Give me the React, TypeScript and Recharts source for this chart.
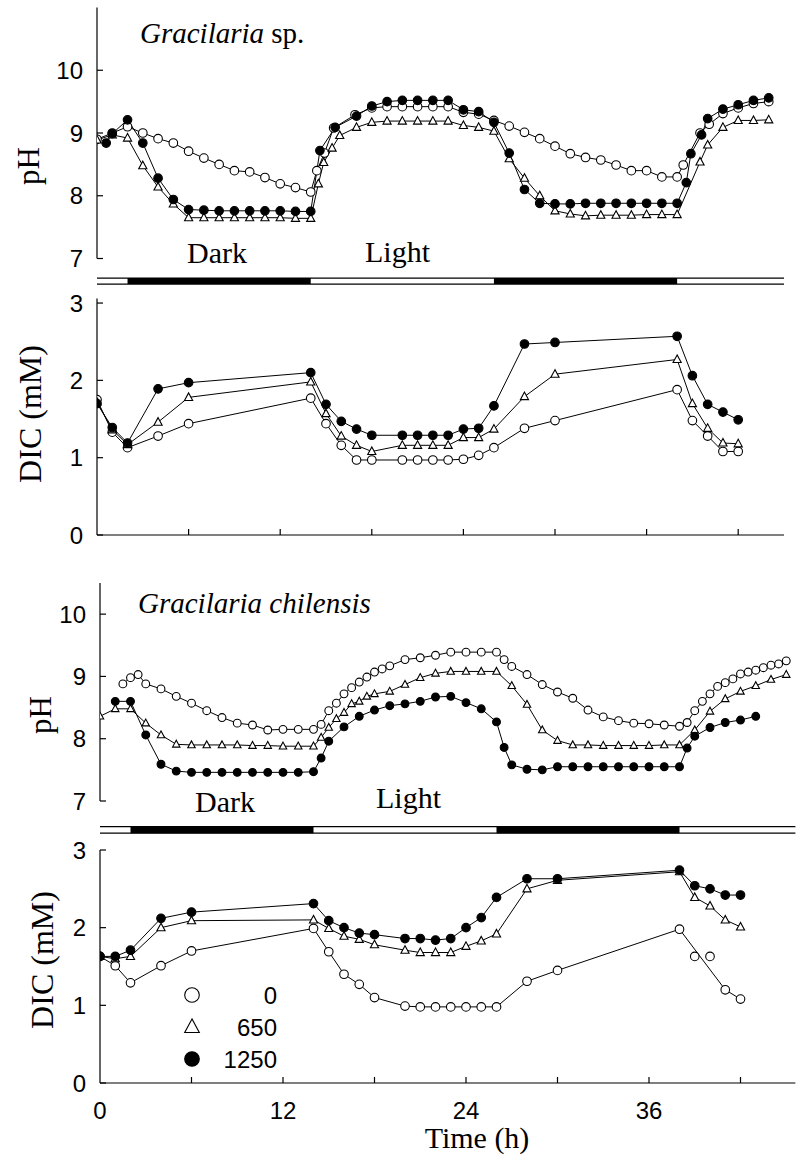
import React from 'react';
import { LineChart, Line, XAxis, YAxis, ReferenceArea, ReferenceLine, Legend } from 'recharts';

// [time (h), value] pairs
// Gracilaria sp. – pH
const spPh0 = [[0,8.9],[1,9.0],[2,9.1],[3,9.0],[4,8.91],[5,8.84],[6,8.71],[7,8.6],[8,8.5],[9,8.4],[10,8.38],[11,8.29],[12,8.19],[13,8.13],[14,8.06],[14.4,8.4],[14.9,8.68],[15.5,9.08],[16.9,9.29],[18,9.4],[19,9.42],[20,9.42],[21,9.42],[22,9.42],[23,9.42],[24,9.33],[25,9.3],[26,9.2],[27,9.11],[28,9.01],[29,8.91],[30,8.79],[31,8.67],[32,8.61],[33,8.57],[34,8.49],[35,8.4],[36,8.4],[37,8.3],[38,8.3],[38.4,8.49],[39.5,9.0],[40.1,9.14],[41,9.31],[42,9.4],[43,9.47],[44,9.5]];
const spPh650 = [[0,8.89],[1,8.97],[2,8.92],[3,8.48],[4,8.14],[5,7.87],[6,7.65],[7,7.65],[8,7.65],[9,7.65],[10,7.65],[11,7.65],[12,7.65],[13,7.64],[14,7.64],[14.5,8.19],[14.85,8.53],[15.4,8.76],[15.9,8.96],[17,9.09],[18,9.17],[19,9.19],[20,9.19],[21,9.19],[22,9.19],[23,9.19],[24,9.12],[25,9.09],[26,9.03],[27,8.59],[28,8.28],[29,8.0],[30,7.76],[31,7.71],[32,7.68],[33,7.69],[34,7.69],[35,7.69],[36,7.7],[37,7.7],[38,7.7],[39.5,8.54],[40,8.81],[41,9.09],[42,9.2],[43,9.2],[44,9.21]];
const spPh1250 = [[0.6,8.84],[1,8.99],[2,9.21],[3,8.84],[4,8.28],[5,7.94],[6,7.78],[7,7.77],[8,7.76],[9,7.76],[10,7.76],[11,7.76],[12,7.76],[13,7.75],[14,7.75],[14.6,8.72],[15.6,9.09],[17,9.27],[18,9.43],[19,9.5],[20,9.52],[21,9.52],[22,9.52],[23,9.52],[24,9.37],[25,9.34],[26,9.17],[27,8.68],[28,8.1],[29,7.88],[30,7.87],[31,7.87],[32,7.88],[33,7.88],[34,7.88],[35,7.88],[36,7.88],[37,7.88],[38,7.88],[38.6,8.21],[38.9,8.67],[39.6,8.97],[40,9.23],[41,9.38],[42,9.45],[43,9.52],[44,9.56]];

// Gracilaria sp. – DIC (mM)
const spDic0 = [[0,1.75],[1,1.33],[2,1.13],[4,1.28],[6,1.44],[14,1.77],[15,1.44],[16,1.16],[17,0.97],[18,0.97],[20,0.97],[21,0.97],[22,0.97],[23,0.97],[24,0.98],[25,1.03],[26,1.13],[28,1.38],[30,1.48],[38,1.88],[39,1.48],[40,1.28],[41,1.08],[42,1.08]];
const spDic650 = [[0,1.72],[1,1.36],[2,1.17],[4,1.46],[6,1.78],[14,1.98],[15,1.57],[16,1.28],[17,1.16],[18,1.08],[20,1.16],[21,1.16],[22,1.16],[23,1.16],[24,1.26],[25,1.26],[26,1.37],[28,1.79],[30,2.08],[38,2.27],[39,1.7],[40,1.38],[41,1.19],[42,1.18]];
const spDic1250 = [[0,1.7],[1,1.39],[2,1.19],[4,1.89],[6,1.97],[14,2.1],[15,1.69],[16,1.47],[17,1.37],[18,1.29],[20,1.29],[21,1.29],[22,1.29],[23,1.29],[24,1.37],[25,1.38],[26,1.67],[28,2.47],[30,2.49],[38,2.57],[39,2.06],[40,1.69],[41,1.59],[42,1.49]];

// Gracilaria chilensis – pH
const chPh0 = [[1.5,8.88],[2,8.98],[2.5,9.03],[3,8.88],[4,8.8],[5,8.68],[6,8.57],[7,8.45],[8,8.34],[9,8.25],[10,8.22],[11,8.14],[12,8.15],[13,8.15],[14,8.15],[14.5,8.23],[15,8.45],[15.5,8.57],[16,8.72],[16.5,8.82],[17,8.91],[17.5,8.99],[18,9.07],[18.5,9.12],[19,9.17],[20,9.27],[21,9.3],[22,9.34],[23,9.39],[24,9.39],[25,9.39],[26,9.39],[26.5,9.27],[27,9.16],[28,9.03],[29,8.87],[30,8.75],[31,8.65],[32,8.46],[33,8.35],[34,8.29],[35,8.25],[36,8.24],[37,8.22],[38,8.2],[38.5,8.26],[39,8.45],[39.5,8.6],[40,8.72],[40.5,8.84],[41,8.9],[41.5,8.96],[42,9.04],[42.5,9.07],[43,9.1],[43.5,9.14],[44,9.18],[44.5,9.2],[45,9.25]];
const chPh650 = [[0,8.36],[1,8.48],[2,8.48],[3,8.25],[4,8.06],[5,7.91],[6,7.9],[7,7.9],[8,7.9],[9,7.9],[10,7.89],[11,7.89],[12,7.88],[13,7.88],[14,7.88],[14.5,8.02],[15,8.18],[15.5,8.32],[16,8.42],[16.5,8.56],[17,8.6],[17.5,8.68],[18,8.72],[19,8.76],[20,8.87],[21,8.98],[22,9.05],[23,9.08],[24,9.08],[25,9.08],[26,9.08],[27,8.85],[28,8.55],[29,8.14],[30,7.97],[31,7.9],[32,7.9],[33,7.89],[34,7.89],[35,7.89],[36,7.89],[37,7.9],[38,7.9],[39,8.14],[40,8.44],[41,8.64],[42,8.76],[43,8.85],[44,8.95],[45,9.03]];
const chPh1250 = [[1,8.6],[2,8.6],[3,8.06],[4,7.59],[5,7.48],[6,7.46],[7,7.46],[8,7.46],[9,7.46],[10,7.46],[11,7.46],[12,7.46],[13,7.46],[14,7.47],[14.5,7.69],[15,7.96],[16,8.19],[17,8.36],[18,8.46],[19,8.53],[20,8.56],[21,8.6],[22,8.67],[23,8.68],[24,8.58],[25,8.48],[26,8.27],[26.5,7.86],[27,7.58],[28,7.51],[29,7.5],[30,7.55],[31,7.55],[32,7.55],[33,7.55],[34,7.55],[35,7.55],[36,7.55],[37,7.55],[38,7.55],[38.5,7.85],[39,8.04],[40,8.18],[41,8.26],[42,8.3],[43,8.36]];

// Gracilaria chilensis – DIC (mM)
const chDic0 = [[0,1.63],[1,1.51],[2,1.29],[4,1.51],[6,1.7],[14,1.99],[15,1.69],[16,1.4],[17,1.27],[18,1.1],[20,0.99],[21,0.98],[22,0.98],[23,0.98],[24,0.98],[25,0.98],[26,0.98],[28,1.31],[30,1.45],[38,1.98],[41,1.2],[42,1.08]];
const chDic0Loose = [[39,1.63],[40,1.63]];
const chDic650 = [[0,1.63],[1,1.6],[2,1.63],[4,2.0],[6,2.09],[14,2.1],[15,1.99],[16,1.89],[17,1.85],[18,1.78],[20,1.71],[21,1.68],[22,1.68],[23,1.68],[24,1.76],[25,1.83],[26,1.92],[28,2.5],[30,2.61],[38,2.72],[39,2.39],[40,2.28],[41,2.1],[42,2.01]];
const chDic1250 = [[0,1.63],[1,1.63],[2,1.71],[4,2.12],[6,2.2],[14,2.31],[15,2.09],[16,2.0],[17,1.93],[18,1.91],[20,1.86],[21,1.86],[22,1.84],[23,1.86],[24,2.0],[25,2.13],[26,2.39],[28,2.63],[30,2.63],[38,2.74],[39,2.54],[40,2.5],[41,2.42],[42,2.42]];

const darkPeriods = [[2, 14], [26, 38]];
const timeTicks = [0, 6, 12, 18, 24, 30, 36, 42];
const phTicks = [7, 8, 9, 10];
const dicTicks = [0, 1, 2, 3];
const legendItems = [
  { name: '0', shape: 'open' },
  { name: '650', shape: 'tri' },
  { name: '1250', shape: 'fill' },
];

const SANS = '"Liberation Sans", Arial, sans-serif';
const SERIF = '"Liberation Serif", "Times New Roman", serif';

const rows = (pairs: number[][]) => pairs.map(([t, v]) => ({ t, v }));

function Marker({ cx, cy, shape, r }: any) {
  if (cx == null || cy == null) return null;
  if (shape === 'tri') {
    return (
      <polygon
        points={`${cx},${cy - r * 1.1} ${cx - r},${cy + r * 0.75} ${cx + r},${cy + r * 0.75}`}
        fill="#fff" stroke="#000" strokeWidth={1.1}
      />
    );
  }
  return <circle cx={cx} cy={cy} r={r} fill={shape === 'fill' ? '#000' : '#fff'} stroke="#000" strokeWidth={1.1} />;
}

const dotOf = (shape: string, r: number) => (p: any) => (
  <Marker key={`d-${p.index}`} cx={p.cx} cy={p.cy} shape={shape} r={r} />
);

const YTick = (p: any) => (
  <g>
    <line x1={p.x} x2={p.x + 6} y1={p.y} y2={p.y} stroke="#000" strokeWidth={1.2} />
    <text x={p.x - 14} y={p.y} dy="0.36em" textAnchor="end" fontFamily={SANS} fontSize={24} fill="#000">
      {p.payload.value}
    </text>
  </g>
);

const XTick = (p: any) => {
  const v = p.payload.value;
  return (
    <g>
      {v > 0 && <line x1={p.x} x2={p.x} y1={p.y} y2={p.y - 6} stroke="#000" strokeWidth={1.2} />}
      {p.withLabels && v % 12 === 0 && (
        <text x={p.x} y={p.y + 27} dy="0.36em" textAnchor="middle" fontFamily={SANS} fontSize={24} fill="#000">
          {v}
        </text>
      )}
    </g>
  );
};

const LegendBox = () => (
  <svg width={110} height={100}>
    {legendItems.map((s, i) => (
      <g key={s.name}>
        <Marker shape={s.shape} cx={12} cy={15 + i * 32} r={7.3} />
        <text x={97} y={15 + i * 32} dy="0.36em" textAnchor="end" fontFamily={SANS} fontSize={24} fill="#000">
          {s.name}
        </text>
      </g>
    ))}
  </svg>
);

function Panel(props: any) {
  const { top, height, margin, xMax, yDomain, yTicks, sets, r, axisMode, bar, legend } = props;
  const shapes = ['open', 'tri', 'fill'];
  return (
    <div style={{ position: 'absolute', left: 0, top, width: 796, height }}>
      <LineChart width={796} height={height} margin={margin}>
        <XAxis
          type="number" dataKey="t" domain={[0, xMax]} ticks={timeTicks} interval={0}
          allowDataOverflow hide={axisMode === 'hidden'} height={1}
          axisLine={{ stroke: '#000', strokeWidth: 1.2 }} tickLine={false} tickSize={0} tickMargin={0}
          tick={(p: any) => <XTick {...p} withLabels={axisMode === 'labels'} />}
        />
        <YAxis
          type="number" domain={yDomain} ticks={yTicks} interval={0} allowDataOverflow width={60}
          axisLine={{ stroke: '#000', strokeWidth: 1.2 }} tickLine={false} tickSize={0} tickMargin={0}
          tick={YTick}
        />
        {bar && <ReferenceLine y={bar[0]} stroke="#000" strokeWidth={1.1} ifOverflow="visible" />}
        {bar && <ReferenceLine y={bar[1]} stroke="#000" strokeWidth={1.1} ifOverflow="visible" />}
        {bar && darkPeriods.map(([a, b]) => (
          <ReferenceArea key={a} x1={a} x2={b} y1={bar[1]} y2={bar[0]} fill="#000" fillOpacity={1} stroke="none" ifOverflow="visible" />
        ))}
        {sets.map((s: number[][], i: number) => (
          <Line
            key={legendItems[i].name} name={legendItems[i].name} data={rows(s)} dataKey="v"
            stroke="#000" strokeWidth={1} dot={dotOf(shapes[i], i === 1 ? r * 0.95 : r)} activeDot={false}
            isAnimationActive={false}
          />
        ))}
        {props.loose && (
          <Line
            data={rows(props.loose)} dataKey="v" stroke="none" legendType="none"
            dot={dotOf('open', r)} activeDot={false} isAnimationActive={false}
          />
        )}
        {legend && (
          <Legend
            layout="vertical" align="center" verticalAlign="middle" content={LegendBox}
            wrapperStyle={{ left: 180, top: 150, width: 110, height: 100 }}
          />
        )}
      </LineChart>
    </div>
  );
}

export default function App() {
  return (
    <div style={{ position: 'absolute', left: 0, top: 0, width: 796, height: 1157, background: '#fff' }}>
      <Panel
        top={0} height={290} margin={{ top: 7.5, right: 12, bottom: 31.5, left: 37 }}
        xMax={45} yDomain={[7, 11]} yTicks={phTicks} sets={[spPh0, spPh650, spPh1250]} r={4.3}
        axisMode="hidden" bar={[6.688, 6.592]}
      />
      <Panel
        top={290} height={265} margin={{ top: 8.4, right: 12, bottom: 19, left: 37 }}
        xMax={45} yDomain={[0, 3.06]} yTicks={dicTicks} sets={[spDic0, spDic650, spDic1250]} r={4.3}
        axisMode="ticks"
      />
      <Panel
        top={830} height={327} margin={{ top: 20, right: 0.6, bottom: 73, left: 40 }}
        xMax={45.6} yDomain={[0, 3]} yTicks={dicTicks} sets={[chDic0, chDic650, chDic1250]} r={4.3}
        loose={chDic0Loose} axisMode="labels" legend
      />
      <Panel
        top={560} height={280} margin={{ top: 23, right: 0.6, bottom: 39, left: 40 }}
        xMax={45.6} yDomain={[7, 10.5]} yTicks={phTicks} sets={[chPh0, chPh650, chPh1250]} r={3.9}
        axisMode="hidden" bar={[6.589, 6.484]}
      />
      <svg width={796} height={1157} style={{ position: 'absolute', left: 0, top: 0, pointerEvents: 'none' }}>
        <g fontFamily={SERIF} fill="#000">
          <text x={140} y={43} fontSize={29}><tspan fontStyle="italic">Gracilaria</tspan> sp.</text>
          <text x={138} y={613} fontSize={29} fontStyle="italic">Gracilaria chilensis</text>
          <text x={187} y={263} fontSize={30}>Dark</text>
          <text x={365} y={262} fontSize={30}>Light</text>
          <text x={195} y={812} fontSize={30}>Dark</text>
          <text x={376} y={808} fontSize={30}>Light</text>
          <text transform="translate(28,166) rotate(-90)" textAnchor="middle" dy="0.35em" fontSize={31}>pH</text>
          <text transform="translate(40,715) rotate(-90)" textAnchor="middle" dy="0.35em" fontSize={31}>pH</text>
          <text transform="translate(30,414) rotate(-90)" textAnchor="middle" dy="0.35em" fontSize={32}>DIC (mM)</text>
          <text transform="translate(42,960) rotate(-90)" textAnchor="middle" dy="0.35em" fontSize={32}>DIC (mM)</text>
          <text x={477} y={1148} textAnchor="middle" fontSize={30}>Time (h)</text>
        </g>
      </svg>
    </div>
  );
}
